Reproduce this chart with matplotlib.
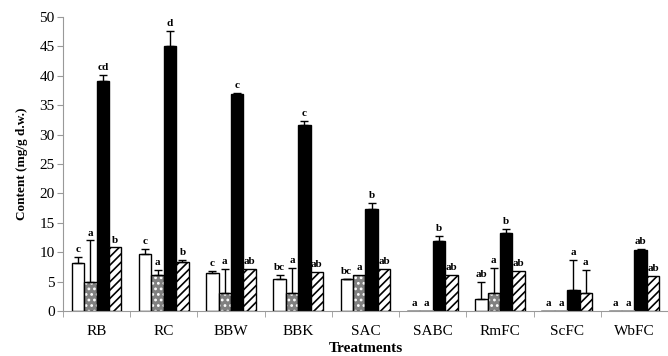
import matplotlib.pyplot as plt
import numpy as np

plt.rcParams['font.family'] = ['Liberation Serif', 'DejaVu Serif']
plt.rcParams['hatch.linewidth'] = 1.2

treatments = ['RB', 'RC', 'BBW', 'BBK', 'SAC', 'SABC', 'RmFC', 'ScFC', 'WbFC']

# four series per treatment (white, dotted grey, black, hatched)
white = [8.1, 9.7, 6.4, 5.5, 5.4, 0.0, 2.1, 0.0, 0.0]
grey = [4.9, 6.2, 3.0, 3.0, 6.2, 0.0, 3.0, 0.0, 0.0]
black = [39.1, 45.0, 36.9, 31.6, 17.4, 11.9, 13.2, 3.6, 10.4]
hatched = [10.8, 8.4, 7.1, 6.7, 7.1, 6.2, 6.8, 3.0, 5.9]

white_err = [1.1, 0.8, 0.4, 0.6, 0.1, 0.0, 2.9, 0.0, 0.0]
grey_err = [7.1, 0.8, 4.2, 4.3, 0.0, 0.0, 4.3, 0.0, 0.0]
black_err = [1.1, 2.6, 0.1, 0.7, 0.9, 0.9, 0.7, 5.1, 0.1]
hatched_err = [0.0, 0.3, 0.0, 0.0, 0.0, 0.0, 0.0, 4.0, 0.0]

white_lbl = ['c', 'c', 'c', 'bc', 'bc', 'a', 'ab', 'a', 'a']
grey_lbl = ['a', 'a', 'a', 'a', 'a', 'a', 'a', 'a', 'a']
black_lbl = ['cd', 'd', 'c', 'c', 'b', 'b', 'b', 'a', 'ab']
hatched_lbl = ['b', 'b', 'ab', 'ab', 'ab', 'ab', 'ab', 'a', 'ab']

fig = plt.figure(figsize=(6.68, 3.56), dpi=100)
ax = fig.add_axes([63/668, 45/356, 605/668, 294/356])

x = np.arange(len(treatments))
w = 0.185
offs = [-1.5*w, -0.5*w, 0.5*w, 1.5*w]

series = [
    (white, white_err, white_lbl, 'white', None, 'black'),
    (grey, grey_err, grey_lbl, '#808080', '...', 'white'),
    (black, black_err, black_lbl, 'black', None, 'black'),
    (hatched, hatched_err, hatched_lbl, 'white', '////', 'black'),
]

for (vals, errs, lbls, fc, hatch, hc), off in zip(series, offs):
    xs = x + off
    if hatch:
        ax.bar(xs, vals, w, color=fc, hatch=hatch, edgecolor=hc, linewidth=0, zorder=2)
        ax.bar(xs, vals, w, fill=False, edgecolor='black', linewidth=1.0, zorder=3)
    else:
        ax.bar(xs, vals, w, color=fc, edgecolor='black', linewidth=1.0, zorder=2)
    for xi, v, e, l in zip(xs, vals, errs, lbls):
        if v == 0:
            ax.plot([xi - w/2, xi + w/2], [0, 0], color='#999999', lw=1.2, zorder=3)
        if e > 0:
            ax.errorbar(xi, v, yerr=[[0], [e]], fmt='none', ecolor='black',
                        elinewidth=1.0, capsize=3, capthick=1.0, zorder=4)
        ax.text(xi, v + e + 0.5, l, ha='center', va='bottom', fontsize=8,
                fontweight='bold')

ax.set_xlim(-0.5, len(treatments) - 0.5)
ax.set_ylim(0, 50)
ax.set_yticks(np.arange(0, 51, 5))
ax.set_xticks(x)
ax.set_xticklabels(treatments, fontsize=11)
ax.set_xticks(np.arange(-0.5, len(treatments), 1), minor=True)
ax.tick_params(axis='x', which='major', length=0, pad=10)
ax.tick_params(axis='x', which='minor', length=4, color='#999999')
ax.tick_params(axis='y', labelsize=11, length=4, color='#999999', pad=2)

for s in ['top', 'right']:
    ax.spines[s].set_visible(False)
for s in ['left', 'bottom']:
    ax.spines[s].set_color('#999999')

ax.set_ylabel('Content (mg/g d.w.)', fontsize=9.5, fontweight='bold', labelpad=8)
ax.set_xlabel('Treatments', fontsize=11, fontweight='bold', labelpad=3)

fig.savefig('out.png', dpi=100)
